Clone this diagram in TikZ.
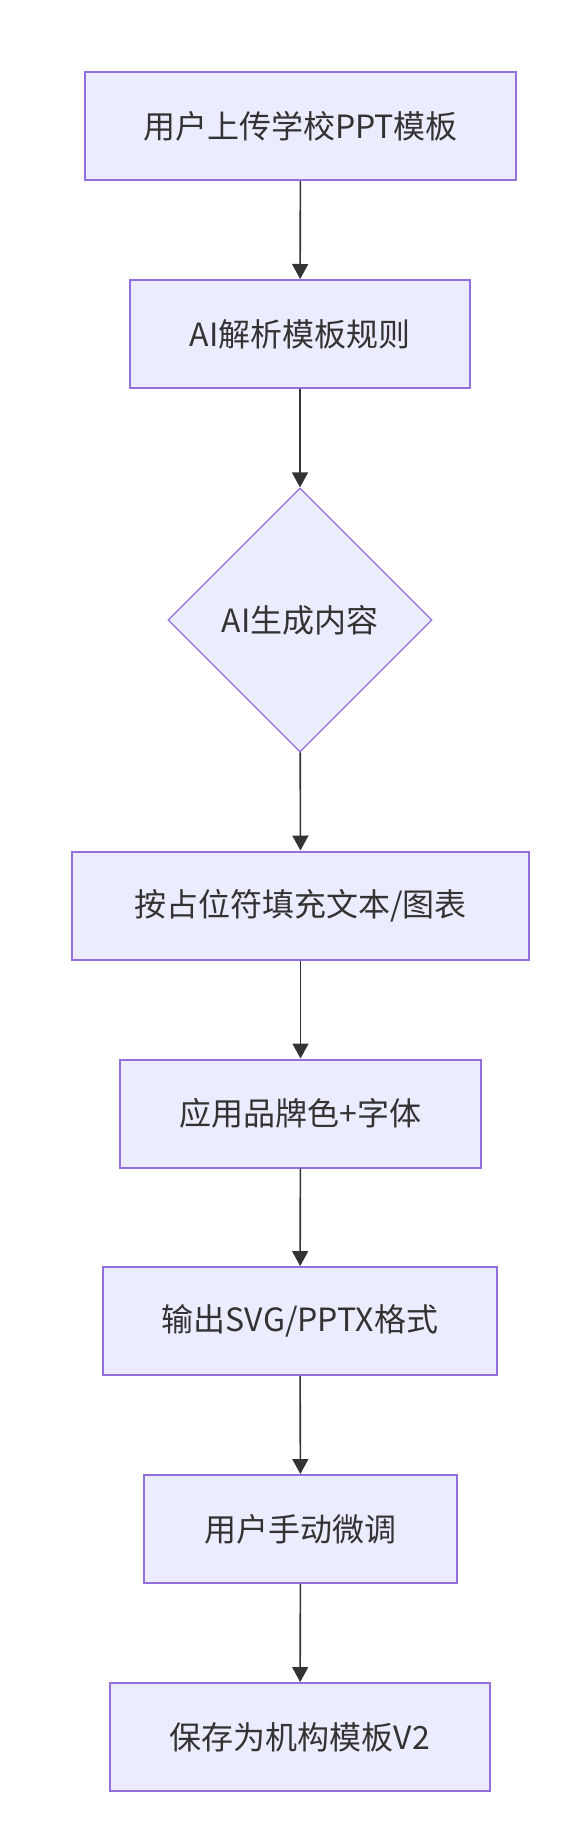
\documentclass[tikz,border=0pt]{standalone}
\usepackage{fontspec}
\setmainfont{Noto Sans CJK SC}
\usetikzlibrary{shapes.geometric,arrows.meta}
\definecolor{boxfill}{HTML}{ECECFF}
\definecolor{boxline}{HTML}{9370DB}
\definecolor{inkgray}{HTML}{333333}
\tikzstyle{process}=[rectangle,draw=boxline,fill=boxfill,line width=2pt,minimum height=108pt,inner sep=0pt,text=inkgray,font=\fontsize{32}{38}\selectfont]
\tikzstyle{decision}=[diamond,draw=boxline,fill=boxfill,line width=1.2pt,minimum width=264pt,minimum height=264pt,inner sep=0pt,text=inkgray,font=\fontsize{32}{38}\selectfont]
\tikzstyle{edge} = [draw,line width=1.6pt,inkgray,-{Triangle[length=15pt,width=16pt]}]

\begin{document}
\begin{tikzpicture}[x=1pt,y=-1pt]
  \useasboundingbox (0,0) rectangle (584,1847);

  % The steps of the flow, top to bottom
  \node[process,minimum width=431pt] (upload) at (300.5,126) {用户上传学校PPT模板};
  \node[process,minimum width=340pt] (parse) at (300,334) {AI解析模板规则};
  \node[decision] (gen) at (300,620) {AI生成内容};
  \node[process,minimum width=457pt] (fill) at (300.5,905.5) {按占位符填充文本/图表};
  \node[process,minimum width=361pt] (brand) at (300.5,1113.5) {应用品牌色+字体};
  \node[process,minimum width=394pt] (export) at (300,1321) {输出SVG/PPTX格式};
  \node[process,minimum width=313pt] (tweak) at (300.5,1529) {用户手动微调};
  \node[process,minimum width=380pt] (save) at (300,1737) {保存为机构模板V2};

  % Connect the steps
  \foreach \source/ \dest in {upload/parse, parse/gen, gen/fill, fill/brand, brand/export, export/tweak, tweak/save}
    \path[edge] (\source) -- (\dest);
\end{tikzpicture}
\end{document}
